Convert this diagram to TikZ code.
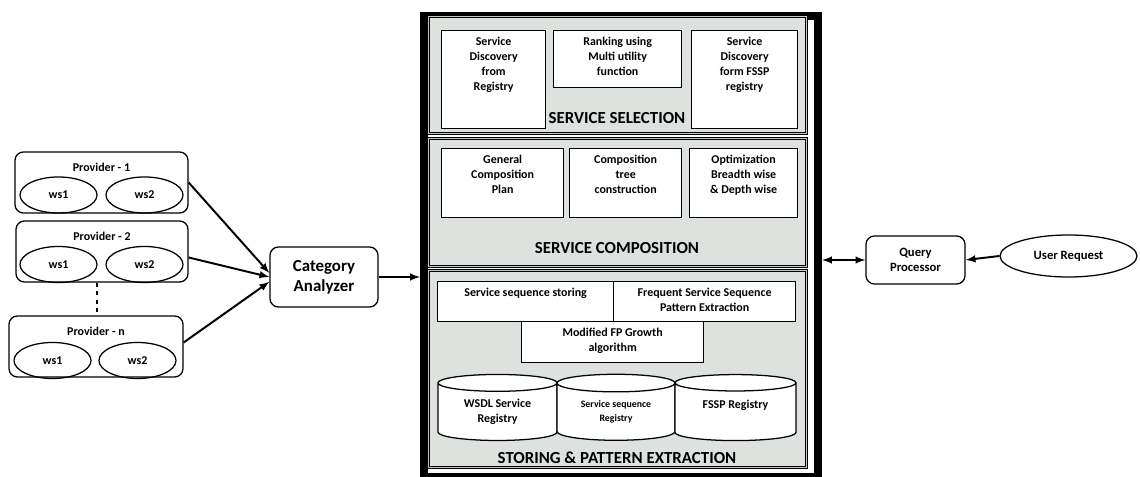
\documentclass[tikz,border=0pt]{standalone}
\usepackage{fontspec}
\setmainfont{Carlito}
\usetikzlibrary{shapes.geometric,arrows}
\definecolor{secgray}{RGB}{221,226,223}
\tikzset{
  frm/.style={draw, line width=0.2cm, inner sep=0, anchor=north west},
  sect/.style={draw, double=gray!45, double distance=0.9pt, line width=0.6pt, fill=secgray, inner sep=0, anchor=north west},
  tbox/.style={draw, line width=0.9pt, fill=white, inner sep=0, anchor=north west},
  lab/.style={align=center, anchor=north, inner sep=5pt, font=\bfseries\fontsize{8.5}{10.6}\selectfont},
  plab/.style={lab, inner sep=8.5pt},
  ttl/.style={font=\bfseries\fontsize{12}{14}\selectfont},
  prov/.style={draw, line width=0.9pt, rounded corners=6pt, minimum height=1.525cm, inner sep=0},
  ws/.style={draw, ellipse, line width=0.9pt, minimum width=1.925cm, minimum height=0.9cm, inner sep=0, font=\bfseries\fontsize{8.5}{10}\selectfont},
  rbox/.style={draw, line width=0.9pt, rounded corners=6pt, align=center, inner sep=0},
  db/.style={draw, cylinder, shape border rotate=90, aspect=0.25, fill=white, line width=0.9pt, align=center, inner sep=0, font=\bfseries\fontsize{8.5}{10.6}\selectfont},
  conn/.style={line width=1.4pt, ->, >=latex},
}
\begin{document}
\begin{tikzpicture}[x=0.025cm, y=-0.025cm]
  \useasboundingbox (0,0) rectangle (1140,477);

  % Cadre principal
  \node[frm, minimum width=9.85cm, minimum height=11.525cm] (frame) at (420,12) {};

  % Sections
  \node[sect, minimum width=9.45cm, minimum height=2.925cm] (sel) at (428,16) {};
  \node[sect, minimum width=9.45cm, minimum height=3.2cm] (comp) at (428,138) {};
  \node[sect, minimum width=9.45cm, minimum height=4.925cm] (store) at (428,270) {};

  % Service selection
  \node[tbox, minimum width=2.6cm, minimum height=2.45cm, label={[lab]north:{Service\\Discovery\\from\\Registry}}] (s1) at (441,30) {};
  \node[tbox, minimum width=3.2cm, minimum height=1.425cm, label={[lab]north:{Ranking using\\Multi utility\\function}}] (s2) at (553,30) {};
  \node[tbox, minimum width=2.65cm, minimum height=2.45cm, label={[lab]north:{Service\\Discovery\\form FSSP\\registry}}] (s3) at (691,30) {};
  \node[ttl] (selt) at (617,118) {SERVICE SELECTION};

  % Service composition
  \node[tbox, minimum width=3.05cm, minimum height=1.725cm, label={[lab]north:{General\\Composition\\Plan}}] (c1) at (441,148) {};
  \node[tbox, minimum width=2.8cm, minimum height=1.725cm, label={[lab]north:{Composition\\tree\\construction}}] (c2) at (569,148) {};
  \node[tbox, minimum width=2.7cm, minimum height=1.725cm, label={[lab]north:{Optimization\\Breadth wise\\\& Depth wise}}] (c3) at (689,148) {};
  \node[ttl] (compt) at (617,248) {SERVICE COMPOSITION};

  % Storing & pattern extraction
  \node[tbox, minimum width=4.4cm, minimum height=1.0cm, label={[lab]north:{Service sequence storing}}] (ss) at (437,281) {};
  \node[tbox, minimum width=4.55cm, minimum height=1.0cm, label={[lab]north:{Frequent Service Sequence\\Pattern Extraction}}] (fs) at (613,281) {};
  \node[tbox, minimum width=4.55cm, minimum height=1.025cm, label={[lab]north:{Modified FP Growth\\algorithm}}] (fp) at (521,321) {};
  \node[db, minimum width=2.975cm, minimum height=1.65cm] (wsdl) at (497.5,412) {WSDL Service\\Registry};
  \node[db, minimum width=2.95cm, minimum height=1.65cm, font=\bfseries\fontsize{7}{10}\selectfont] (seq) at (616,412) {Service sequence\\Registry};
  \node[db, minimum width=3.025cm, minimum height=1.65cm] (fssp) at (735.5,412) {FSSP Registry\\~};
  \node[ttl] (storet) at (617,458) {STORING \& PATTERN EXTRACTION};

  % Fournisseurs
  \node[prov, minimum width=4.325cm, label={[plab]north:{Provider - 1}}] (p1) at (101.5,182.5) {};
  \node[ws] (p1a) at (58.5,195) {ws1};
  \node[ws] (p1b) at (144.5,195) {ws2};
  \node[prov, minimum width=4.3cm, label={[plab]north:{Provider - 2}}] (p2) at (102,251.5) {};
  \node[ws] (p2a) at (58.5,264.5) {ws1};
  \node[ws] (p2b) at (144.5,264.5) {ws2};
  \node[prov, minimum width=4.35cm, label={[plab]north:{Provider - n}}] (pn) at (96,346.5) {};
  \node[ws] (pna) at (52.5,360.5) {ws1};
  \node[ws] (pnb) at (137.5,360.5) {ws2};
  \draw[dashed, line width=1.4pt] ([xshift=-0.125cm]p2.south) -- ([xshift=-0.125cm]p2.south |- pn.north);

  % Analyseur et requetes
  \node[rbox, minimum width=2.7cm, minimum height=1.5cm, font=\bfseries\fontsize{12}{14.5}\selectfont] (ca) at (324,277) {Category\\Analyzer};
  \node[rbox, minimum width=2.475cm, minimum height=1.2cm, font=\bfseries\fontsize{9}{11}\selectfont] (qp) at (915.5,260) {Query\\Processor};
  \node[draw, ellipse, line width=0.9pt, minimum width=3.425cm, minimum height=1.05cm, inner sep=0, font=\bfseries\fontsize{9}{11}\selectfont] (ur) at (1068.5,256) {User Request};

  % Connexions
  \draw[conn] (p1.east) -- ([yshift=0.1cm]ca.west);
  \draw[conn] ([yshift=-0.15cm]p2.east) -- (ca.west);
  \draw[conn] ([yshift=0.1cm]pn.east) -- ([yshift=-0.12cm]ca.west);
  \draw[conn] (ca.east) -- (ca.east -| frame.west);
  \draw[conn, <->] (qp.west -| frame.east) -- (qp.west);
  \draw[conn] (ur.west) -- (qp.east);
\end{tikzpicture}
\end{document}
